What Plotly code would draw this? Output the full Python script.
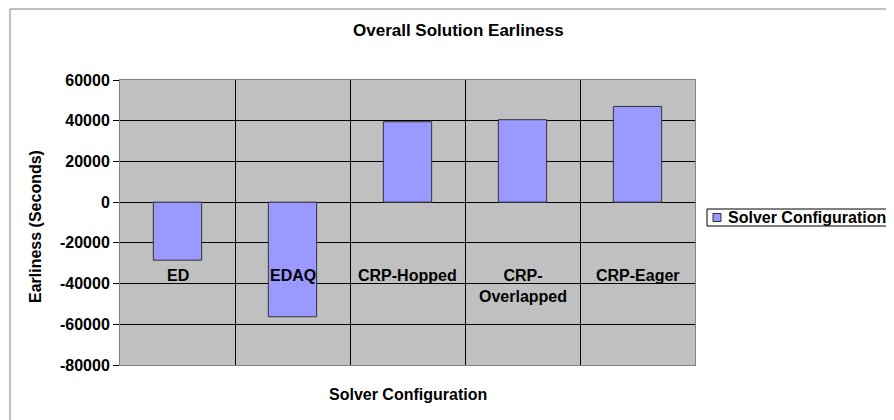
import plotly.graph_objects as go

categories = ["ED", "EDAQ", "CRP-Hopped", "CRP-<br>Overlapped", "CRP-Eager"]
values = [-28500, -56300, 39500, 40500, 47000]
series_name = "Solver Configuration"
y_ticks = [60000, 40000, 20000, 0, -20000, -40000, -60000, -80000]

OFF = 8  # page body margin
W, H = 894 - OFF, 420 - OFF
L, R, T, B = 120 - OFF, 695 - OFF, 80 - OFF, 365 - OFF
FONT = "Liberation Sans, Arial, sans-serif"
FS = 16

def px(x):
    return (x - OFF - L) / (R - L)

def py(y):
    return (B - (y - OFF)) / (B - T)

fig = go.Figure()
fig.add_trace(go.Bar(
    x=list(range(len(categories))), y=values, name=series_name,
    marker=dict(color="#9999ff", line=dict(color="#333333", width=1)),
    width=0.42, showlegend=False,
))

annotations = []
for i, c in enumerate(categories):
    annotations.append(dict(x=i, y=-31000, xref="x", yref="y", text="<b>%s</b>" % c,
                            showarrow=False, xanchor="center", yanchor="top", align="center",
                            font=dict(family=FONT, size=FS, color="black")))
annotations.append(dict(x=px(458), y=py(31), xref="paper", yref="paper",
                        xanchor="center", yanchor="middle",
                        text="<b>Overall Solution Earliness</b>", showarrow=False,
                        font=dict(family=FONT, size=17, color="black")))
annotations.append(dict(x=px(408), y=py(394), xref="paper", yref="paper",
                        xanchor="center", yanchor="middle",
                        text="<b>Solver Configuration</b>", showarrow=False,
                        font=dict(family=FONT, size=FS, color="black")))
annotations.append(dict(x=px(35), y=py(227), xref="paper", yref="paper",
                        xanchor="center", yanchor="middle",
                        text="<b>Earliness (Seconds)</b>", showarrow=False, textangle=-90,
                        font=dict(family=FONT, size=FS, color="black")))
# legend (drawn manually)
annotations.append(dict(x=px(726), y=py(217.5), xref="paper", yref="paper",
                        xanchor="left", yanchor="middle",
                        text="<b>%s</b>" % series_name, showarrow=False,
                        font=dict(family=FONT, size=FS, color="black")))

shapes = [
    dict(type="rect", xref="paper", yref="paper",
         x0=px(10), x1=px(940), y0=py(460), y1=py(9),
         line=dict(color="#808080", width=1), layer="below"),
    dict(type="rect", xref="paper", yref="paper",
         x0=px(707), x1=px(920), y0=py(226), y1=py(209),
         line=dict(color="black", width=1), fillcolor="white"),
    dict(type="rect", xref="paper", yref="paper",
         x0=px(713), x1=px(721), y0=py(221.5), y1=py(213.5),
         line=dict(color="#333333", width=1), fillcolor="#9999ff"),
]

fig.update_layout(
    width=W, height=H,
    margin=dict(l=L, r=W - R, t=T, b=H - B),
    paper_bgcolor="white", plot_bgcolor="#c0c0c0",
    font=dict(family=FONT, size=12, color="black"),
    annotations=annotations, shapes=shapes, showlegend=False,
)
fig.update_xaxes(range=[-0.5, len(categories) - 0.5], showticklabels=False,
                 tickvals=[0.5, 1.5, 2.5, 3.5], showgrid=True, gridcolor="black", gridwidth=1,
                 showline=True, linecolor="#808080", mirror=True, ticks="", zeroline=False)
fig.update_yaxes(range=[-80000, 60000], tickvals=y_ticks,
                 ticktext=["<b>%d</b>" % v for v in y_ticks],
                 showgrid=True, gridcolor="black", gridwidth=1,
                 zeroline=True, zerolinecolor="black", zerolinewidth=1,
                 showline=True, linecolor="#808080", mirror=True,
                 ticks="outside", ticklen=6, tickcolor="black",
                 tickfont=dict(family=FONT, size=FS, color="black"))
fig.write_html("out.html")
